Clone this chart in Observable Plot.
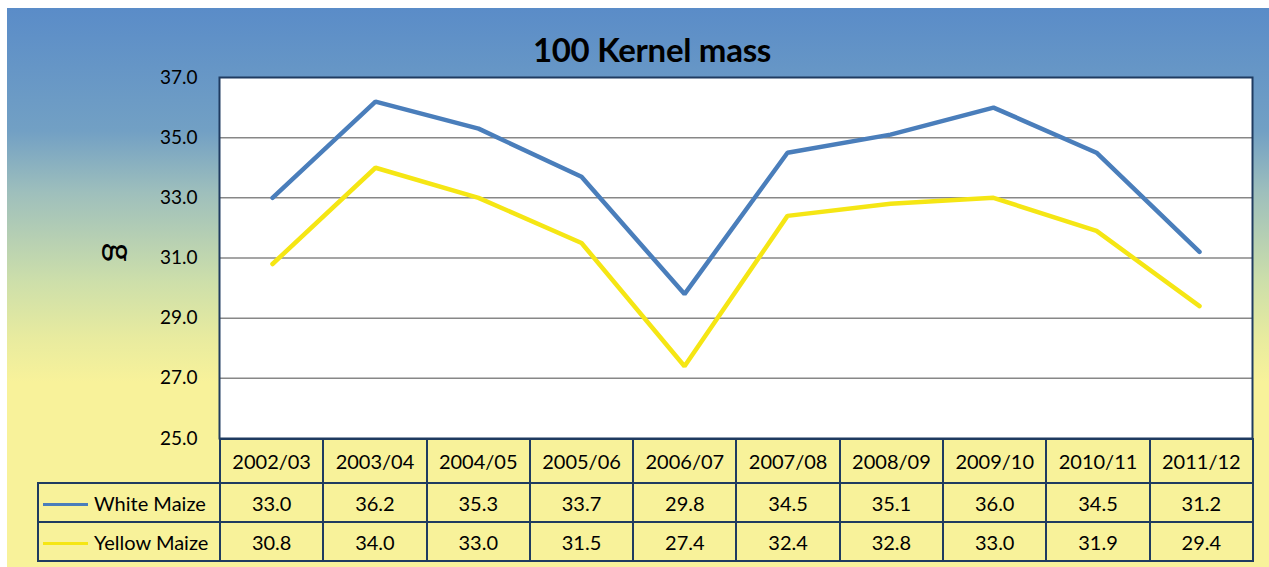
<!DOCTYPE html>
<html>
<head>
<meta charset="utf-8">
<script src="https://cdn.jsdelivr.net/npm/d3@7"></script>
<script src="https://cdn.jsdelivr.net/npm/@observablehq/plot@0.6"></script>
<style>
  html, body { margin: 0; padding: 0; background: #ffffff; width: 1269px; height: 567px; overflow: hidden; }
  #panel {
    position: absolute; left: 7px; top: 8px; width: 1262px; height: 559px;
    background: linear-gradient(to bottom, #5a8cc8 0%, #72a0c4 22%, #9ebfbc 33%, #cddfaa 49%, #e8eb9f 59%, #f8f29a 67%, #f8f29a 100%);
    font-family: Lato, "Open Sans", sans-serif;
  }
  #title {
    position: absolute; left: 14px; top: 25px; width: 1262px; text-align: center;
    font: bold 33px Lato, sans-serif; line-height: 32px; color: #000; letter-spacing: -0.3px;
  }
  #chart { position: absolute; left: 0; top: 0; z-index: 2; pointer-events: none; }
  #table {
    position: absolute; left: 30px; top: 430px; border-collapse: collapse; table-layout: fixed;
    font: 20px Lato, sans-serif; color: #000; z-index: 1;
  }
  #table td { padding: 0; text-align: center; border: 2px solid #1f3b60; }
  #table tr.head td { height: 42px; }
  #table tr.row td { height: 37px; }
  #table td.empty { border: none; }
  #table td.legend { text-align: left; white-space: nowrap; }
  .swatch { display: inline-block; width: 45px; height: 3px; vertical-align: middle; margin: 0 6px 0 4px; position: relative; top: -1px; }
</style>
</head>
<body>
<div id="panel">
  <div id="title"></div>
  <table id="table"></table>
  <div id="chart"></div>
</div>
<script>
const chartTitle = "100 Kernel mass";
const yLabel = "g";
const seasons = ["2002/03","2003/04","2004/05","2005/06","2006/07","2007/08","2008/09","2009/10","2010/11","2011/12"];
const whiteMaize = [33.0, 36.2, 35.3, 33.7, 29.8, 34.5, 35.1, 36.0, 34.5, 31.2];
const yellowMaize = [30.8, 34.0, 33.0, 31.5, 27.4, 32.4, 32.8, 33.0, 31.9, 29.4];
const seriesNames = ["White Maize", "Yellow Maize"];
const seriesColors = ["#4a7ebb", "#f5e614"];
const yTicks = [25, 27, 29, 31, 33, 35, 37];
const gridTicks = [27, 29, 31, 33, 35];

const seriesValues = [whiteMaize, yellowMaize];
const data = seriesNames.flatMap((name, k) =>
  seasons.map((s, i) => ({season: s, series: name, value: seriesValues[k][i]}))
);

document.getElementById("title").textContent = chartTitle;

const plotLeft = 212, plotRight = 17, panelWidth = 1262;
const chart = Plot.plot({
  width: panelWidth, height: 446,
  marginTop: 69, marginBottom: 16, marginLeft: plotLeft, marginRight: plotRight,
  style: {background: "transparent", fontFamily: "Lato, sans-serif", fontSize: "19px", color: "#000"},
  x: {type: "point", domain: seasons, padding: 0.5, axis: null},
  y: {domain: [25, 37], label: null, axis: null},
  color: {domain: seriesNames, range: seriesColors},
  marks: [
    Plot.frame({fill: "white"}),
    Plot.gridY(gridTicks, {stroke: "#878787", strokeOpacity: 1, strokeWidth: 1.5}),
    Plot.axisY({ticks: yTicks, tickSize: 0, tickPadding: 22, tickFormat: d => d.toFixed(1), label: null, fontSize: 19, fill: "#000"}),
    Plot.line(data, {x: "season", y: "value", stroke: "series", z: "series", strokeWidth: 4.5, strokeLinejoin: "miter"}),
    Plot.frame({stroke: "#1f3b60", strokeWidth: 2}),
    Plot.text([yLabel], {text: d => d, frameAnchor: "left", dx: -100, dy: -15, rotate: 90, fontSize: 36, fill: "#000"})
  ]
});
document.getElementById("chart").appendChild(chart);

// data table
const colW = (panelWidth - plotLeft - plotRight) / seasons.length;
const legendW = 182;
const table = document.getElementById("table");
table.style.width = (legendW + colW * seasons.length) + "px";
const colgroup = document.createElement("colgroup");
const c0 = document.createElement("col"); c0.style.width = legendW + "px"; colgroup.appendChild(c0);
seasons.forEach(() => { const c = document.createElement("col"); c.style.width = colW + "px"; colgroup.appendChild(c); });
table.appendChild(colgroup);

const head = document.createElement("tr"); head.className = "head";
const e = document.createElement("td"); e.className = "empty"; head.appendChild(e);
seasons.forEach(s => { const td = document.createElement("td"); td.textContent = s; head.appendChild(td); });
table.appendChild(head);

seriesNames.forEach((name, k) => {
  const tr = document.createElement("tr"); tr.className = "row";
  const lg = document.createElement("td"); lg.className = "legend";
  const sw = document.createElement("span"); sw.className = "swatch"; sw.style.background = seriesColors[k];
  lg.appendChild(sw);
  lg.appendChild(document.createTextNode(name));
  tr.appendChild(lg);
  seriesValues[k].forEach(v => { const td = document.createElement("td"); td.textContent = v.toFixed(1); tr.appendChild(td); });
  table.appendChild(tr);
});
</script>
</body>
</html>
